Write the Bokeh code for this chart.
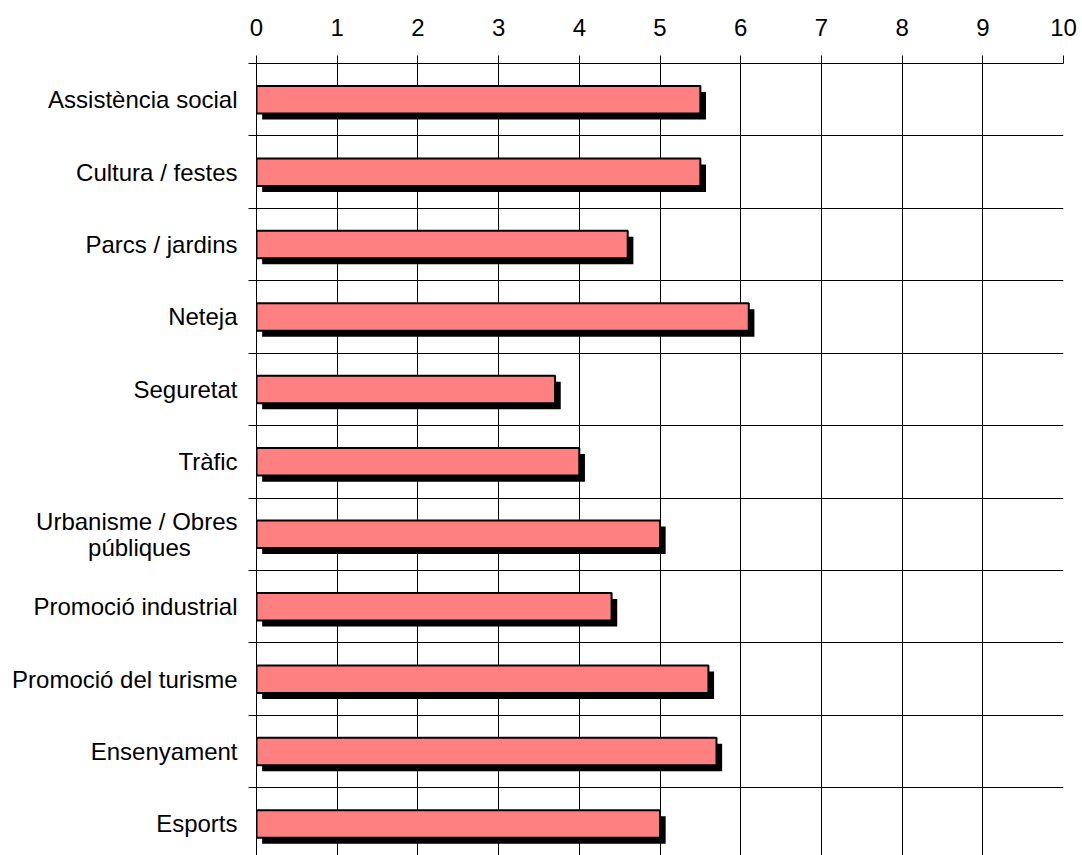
from bokeh.plotting import figure
from bokeh.models import Range1d, FixedTicker, ColumnDataSource
from bokeh.transform import dodge
from bokeh.embed import file_html
from bokeh.resources import INLINE

NBSP = "\u00a0"
categories = ["Assistència social", "Cultura / festes", "Parcs / jardins", "Neteja",
              "Seguretat", "Tràfic", "Urbanisme / Obres\npúbliques" + NBSP * 7,
              "Promoció industrial", "Promoció del turisme", "Ensenyament", "Esports"]
scores = [5.5, 5.5, 4.6, 6.1, 3.7, 4.0, 5.0, 4.4, 5.6, 5.7, 5.0]
x_ticks = list(range(0, 11))

pos = [i + 0.5 for i in range(len(categories))]
bounds = list(range(len(categories) + 1))
src = ColumnDataSource(dict(pos=pos, score=scores))

p = figure(width=1078, height=855, output_backend="svg", toolbar_location=None,
           x_range=Range1d(0, 10), y_range=Range1d(10.935, 0), x_axis_location="above",
           min_border_left=256, min_border_right=15, min_border_top=63, min_border_bottom=0)
p.outline_line_color = None
p.background_fill_color = "white"

FONT = "Liberation Sans"

# x axis (top)
p.xaxis.ticker = FixedTicker(ticks=x_ticks)
p.xaxis.major_label_text_font = FONT
p.xaxis.major_label_text_font_size = "24px"
p.xaxis.major_label_text_color = "black"
p.xaxis.major_tick_out = 8
p.xaxis.major_tick_in = 0
p.xaxis.minor_tick_line_color = None
p.xaxis.axis_line_color = "black"
p.xaxis.major_tick_line_color = "black"
p.xaxis.major_label_standoff = 20

# y axis (left)
p.yaxis.ticker = FixedTicker(ticks=pos, minor_ticks=bounds)
p.yaxis.major_label_overrides = {pv: c for pv, c in zip(pos, categories)}
p.yaxis.major_label_text_font = FONT
p.yaxis.major_label_text_font_size = "24px"
p.yaxis.major_label_text_color = "black"
p.yaxis.major_label_text_line_height = 0.95
p.yaxis.major_tick_out = 0
p.yaxis.major_tick_in = 0
p.yaxis.minor_tick_out = 8
p.yaxis.minor_tick_in = 0
p.yaxis.minor_tick_line_color = "black"
p.yaxis.axis_line_color = "black"
p.yaxis.major_label_standoff = 11

# grids
p.xgrid.ticker = FixedTicker(ticks=x_ticks)
p.ygrid.ticker = FixedTicker(ticks=bounds)
p.xgrid.grid_line_color = "black"
p.ygrid.grid_line_color = "black"
p.xgrid.grid_line_width = 1
p.ygrid.grid_line_width = 1

# shadow
p.hbar(y=dodge('pos', 0.083), left=0.07, right=dodge('score', 0.07), height=0.38,
       source=src, fill_color="black", line_color=None)
# bars
p.hbar(y='pos', left=0, right='score', height=0.38, source=src,
       fill_color="#FF8080", line_color="black", line_width=2)

open("out.html", "w").write(file_html(p, INLINE))
